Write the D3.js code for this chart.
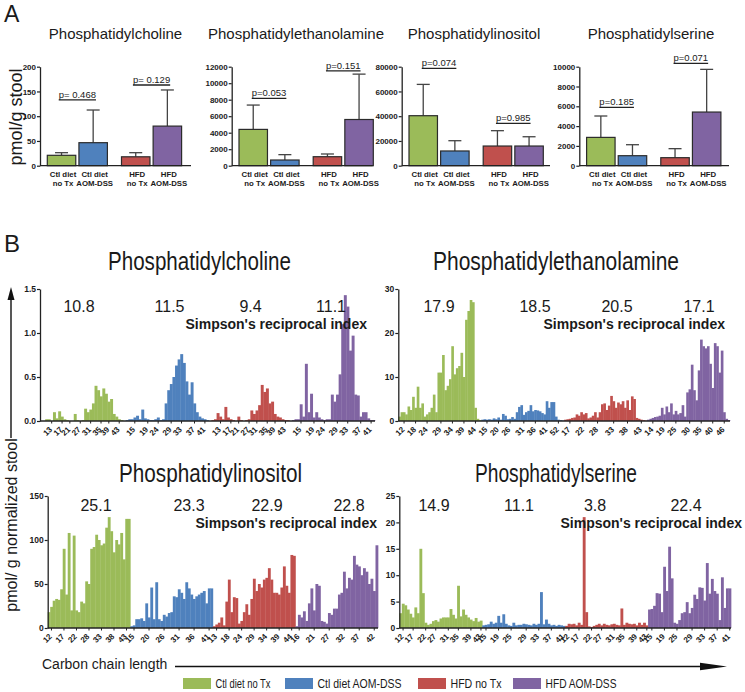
<!DOCTYPE html>
<html><head><meta charset="utf-8">
<script src="https://cdn.jsdelivr.net/npm/d3@7"></script>
<style>body{margin:0;background:#fff}svg{display:block}</style>
</head><body>
<svg id="c" width="745" height="692"></svg>
<script>
// ---------------- DATA ----------------
const groupNames = ["Ctl diet no Tx","Ctl diet AOM-DSS","HFD no Tx","HFD AOM-DSS"];
const groupColors = ["#9BBB59","#4F81BD","#C0504D","#8064A2"];
const labelLine1 = ["Ctl diet","Ctl diet","HFD","HFD"];
const labelLine2 = ["no Tx","AOM-DSS","no Tx","AOM-DSS"];
const lipids = ["Phosphatidylcholine","Phosphatidylethanolamine","Phosphatidylinositol","Phosphatidylserine"];

// Panel A: mean and SD (pmol/g stool)
const meanPC = [21, 46.5, 18, 80];
const sdPC   = [5.3, 66, 8.3, 73];
const meanPE = [4400, 690, 1090, 5600];
const sdPE   = [2950, 650, 330, 5500];
const meanPI = [40400, 11900, 15900, 15900];
const sdPI   = [25300, 8300, 12400, 7500];
const meanPS = [2860, 1010, 810, 5420];
const sdPS   = [2160, 1110, 910, 4310];
const pTextPC = ["p= 0.468","p= 0.129"]; const pLevelPC = [133, 163];
const pTextPE = ["p=0.053","p=0.151"];   const pLevelPE = [8160, 11500];
const pTextPI = ["p=0.074","p=0.985"];   const pLevelPI = [78600, 34200];
const pTextPS = ["p=0.185","p=0.071"];   const pLevelPS = [5890, 10340];
const yTicksAPC = [0,50,100,150,200];
const yTicksAPE = [0,2000,4000,6000,8000,10000,12000];
const yTicksAPI = [0,20000,40000,60000,80000];
const yTicksAPS = [0,2000,4000,6000,8000,10000];

// Panel B: pmol/g normalized stool by carbon chain length
const pcCtl    = [0,0,0.02,0.02,0,0.1,0.03,0.11,0.05,0.02,0.01,0,0,0.08,0.01,0,0.01,0.14,0.1,0.13,0.2,0.4,0.35,0.28,0.37,0.31,0.22,0.25,0.08,0.05,0.02,0.01];
const pcCtlAom = [0,0.01,0.02,0.02,0.04,0.06,0.02,0.13,0.03,0.02,0.01,0.01,0.02,0.04,0.01,0.02,0.2,0.35,0.42,0.5,0.63,0.7,0.76,0.66,0.45,0.3,0.44,0.2,0.1,0.05,0.03,0.02,0.01];
const pcHfd    = [0,0.01,0.02,0.09,0.05,0.02,0.16,0.04,0.02,0.01,0,0.05,0.01,0,0.01,0.02,0.12,0.08,0.12,0.18,0.41,0.33,0.37,0.2,0.22,0.08,0.05,0.04,0.02,0.01,0.01];
const pcHfdAom = [0,0.01,0.02,0.02,0.19,0.05,0.65,0.1,0.31,0.04,0.1,0.04,0.02,0.01,0.02,0.02,0.3,0.22,0.3,0.53,1.1,1.43,1.3,0.8,0.97,0.3,0.29,0.05,0.1,0.1,0.03,0.01,0.01];

const peCtl    = [1,2,2,1.5,3.3,2.5,5.5,3,7.8,3,4,1,1.5,2,3,6,2,11,11,15,7,8,9.5,17,10.6,12,12.5,15.5,10,23,25,27.5,27,3,0.5,0.2];
const peCtlAom = [0.3,0.4,0.3,0.4,0.3,0.6,0.4,0.8,0.3,1.6,1.2,0.4,0.5,0.9,0.5,2,3.2,3.6,1.4,2,2.3,3.6,2.2,2.5,2.4,2.2,1.8,1.5,4.5,3,4.3,4.3,1,0.3,0.2,0.1];
const peHfd    = [0.3,0.4,0.5,0.7,0.8,1.5,1.2,2,1.5,1.8,0.6,0.8,1.2,2,0.8,2,3.8,4,2.5,3.5,5.7,4.5,3,4.2,3.8,4.5,3,4.7,2.5,5.6,5,0.7,0.5,0.3,0.2,0.1];
const peHfdAom = [0.3,0.5,0.7,0.9,1,1.2,3,1.5,3.3,2,4,1.5,2.3,1.5,1.8,3.6,1,6.5,7.2,12.8,7,4.7,11.5,18.5,17,16.5,17,13,7.5,17.7,17,11,16,2,0.5,0.2];

const piCtl    = [18,24,31,33,32,44,90,38,108,20,105,20,18,30,28,53,50,90,92,106,100,94,96,114,126,110,86,100,95,108,78,124,124];
const piCtlAom = [2,3,10,10,11,8,28,12,46,10,52,10,8,15,13,17,18,36,35,44,40,33,52,45,38,33,36,38,40,42,28,45,45];
const piHfd    = [2,4,6,12,3,30,55,18,35,34,5,8,18,27,15,33,56,42,50,46,55,57,68,55,40,40,38,46,70,48,40,83,82];
const piHfdAom = [2,15,12,19,8,28,45,20,50,48,8,7,5,17,15,22,22,38,40,64,45,57,55,82,72,70,60,68,64,50,56,42,94];

const psCtl    = [2.8,4.6,4.3,3.5,2.7,2,3.9,2.8,15,6.6,1,0.6,0.8,1.3,1.5,1.2,1.8,2,2,2,3.6,2.5,1.8,8,2.2,3.5,2.5,2,1.6,1.3,1.9,1.2,1.4];
const psCtlAom = [0.5,0.6,0.7,1.2,0.8,1,2.3,1,2.6,0.8,0.5,0.4,1,0.5,0.6,0.6,0.8,0.7,0.6,0.5,0.8,0.6,0.8,6.8,0.7,1.6,0.8,0.5,0.6,0.4,0.6,0.5,0.4];
const psHfd    = [0.4,0.8,0.7,0.8,0.5,1,0.6,21,3,0.3,0.2,0.4,0.6,0.8,0.5,0.8,0.6,0.5,0.7,0.8,0.6,0.5,3.7,0.6,1,0.8,0.7,0.8,0.5,1,0.6,1,0.5];
const psHfdAom = [3.5,3.6,4.2,6.6,6.5,3,11.6,7,15.4,9.4,1,0.8,1.5,2.8,3,4.9,2.8,3.8,6.3,5.5,7.7,7.6,5.2,12.3,6.5,9.3,7,6.5,1.5,9.6,3.8,7.5,7.5];

// carbon chain tick labels per group
const ticksPC = [[13,17,21,27,31,35,39,43],[15,19,24,29,33,37,41],[13,17,21,27,31,35,39,43],[15,19,24,29,33,37,41]];
const ticksPE = [[12,18,24,29,34,39,44],[15,20,26,31,36,41,52],[17,22,28,33,38,43],[14,19,25,30,35,40,46]];
const ticksPI = [[12,17,22,28,33,38,43],[15,20,26,31,36,41],[13,18,24,29,34,39,44],[16,21,27,32,37,42]];
const ticksPS = [[12,17,22,27,31,35,39,43],[15,19,25,29,33,37,41],[12,17,22,27,31,35,39,43],[15,19,25,29,33,37,41]];

const simpsonPC = [10.8, 11.5, 9.4, 11.1];
const simpsonPE = [17.9, 18.5, 20.5, 17.1];
const simpsonPI = [25.1, 23.3, 22.9, 22.8];
const simpsonPS = [14.9, 11.1, 3.8, 22.4];

const yTicksBPC = [0,0.5,1.0,1.5];
const yTicksBPE = [0,10,20,30];
const yTicksBPI = [0,50,100,150];
const yTicksBPS = [0,5,10,15,20,25];

// ---------------- DRAWING ----------------
const FONT = "'Liberation Sans', Arial, Helvetica, sans-serif";
const NARROW = "'Liberation Sans Narrow', 'Arial Narrow', 'Liberation Sans', Arial, sans-serif";
const INK = "#1a1a1a";
const svg = d3.select("#c").style("font-family", FONT);
const fmt1 = d3.format(".1f"), fmt0 = d3.format("d");

function txt(g, x, y, s, size, opts = {}) {
  const t = g.append("text").attr("x", x).attr("y", y).text(s)
    .attr("font-size", size).attr("fill", opts.fill || INK)
    .attr("text-anchor", opts.anchor || "start");
  if (opts.bold) t.attr("font-weight", "bold");
  if (opts.family) t.attr("font-family", opts.family);
  if (opts.len) t.attr("textLength", opts.len).attr("lengthAdjust", "spacingAndGlyphs");
  return t;
}

// ----- Panel A -----
txt(svg, 4, 22, "A", 23);
txt(svg, 0, 0, "pmol/g stool", 18, {anchor: "middle"}).attr("transform", "translate(22,117) rotate(-90)");

function drawA(x0, w, title, titleX, means, sds, yMax, yTicks, pText, pLevel) {
  const g = svg.append("g");
  const yTop = 66.7, yBot = 165.7;
  const y = d3.scaleLinear().domain([0, yMax]).range([yBot, yTop]);
  const outer = d3.scaleBand().domain([0, 1]).range([x0 + 7.3, x0 + 141.6]).paddingInner(0.19);
  const inner = d3.scaleBand().domain([0, 1]).range([0, outer.bandwidth()]).paddingInner(0.1);
  const bx = i => outer(Math.floor(i / 2)) + inner(i % 2);
  const bw = inner.bandwidth();
  const cx = i => bx(i) + bw / 2;

  txt(g, titleX, 39, title, 15, {anchor: "middle"});

  const data = means.map((m, i) => ({i, m, top: m + sds[i]}));
  g.selectAll(".eb").data(data).enter().append("line")
    .attr("x1", d => cx(d.i)).attr("x2", d => cx(d.i))
    .attr("y1", d => y(d.m)).attr("y2", d => y(d.top))
    .attr("stroke", "#444").attr("stroke-width", 1.3);
  g.selectAll(".cap").data(data).enter().append("line")
    .attr("x1", d => cx(d.i) - 6.5).attr("x2", d => cx(d.i) + 6.5)
    .attr("y1", d => y(d.top)).attr("y2", d => y(d.top))
    .attr("stroke", "#444").attr("stroke-width", 1.3);
  g.selectAll(".bar").data(data).enter().append("rect")
    .attr("x", d => bx(d.i)).attr("width", bw)
    .attr("y", d => y(d.m)).attr("height", d => yBot - y(d.m))
    .attr("fill", d => groupColors[d.i]).attr("stroke", "#2b2b2b").attr("stroke-width", 1.2);

  const ax = g.append("g").attr("transform", `translate(${x0},0)`)
    .call(d3.axisLeft(y).tickValues(yTicks).tickFormat(fmt0).tickSize(3).tickSizeOuter(0));
  ax.select(".domain").attr("stroke", "#222").attr("stroke-width", 1.3);
  ax.selectAll(".tick line").attr("stroke", "#222").attr("stroke-width", 1.2);
  ax.selectAll(".tick text").attr("font-size", 8).attr("font-weight", "bold")
    .attr("font-family", FONT).attr("fill", INK).attr("x", -4);
  g.append("line").attr("x1", x0).attr("x2", x0 + w).attr("y1", yBot).attr("y2", yBot)
    .attr("stroke", "#222").attr("stroke-width", 1.3);

  data.forEach(d => {
    txt(g, cx(d.i) + 1.5, 177, labelLine1[d.i], 7.8, {anchor: "middle", bold: true});
    txt(g, cx(d.i) + 1.5, 185.5, labelLine2[d.i], 7.8, {anchor: "middle", bold: true});
  });

  [[0, 1], [2, 3]].forEach((pr, k) => {
    const mid = (cx(pr[0]) + cx(pr[1])) / 2;
    const yy = y(pLevel[k]);
    const t = txt(g, mid, yy - 2, pText[k], 9.5, {anchor: "middle"});
    const tw = t.node().getComputedTextLength();
    g.append("line").attr("x1", mid - tw / 2).attr("x2", mid + tw / 2)
      .attr("y1", yy).attr("y2", yy).attr("stroke", "#222").attr("stroke-width", 1.3);
  });
}

drawA(40, 151, lipids[0], 115.5, meanPC, sdPC, 200, yTicksAPC, pTextPC, pLevelPC);
drawA(231.7, 141, lipids[1], 296, meanPE, sdPE, 12000, yTicksAPE, pTextPE, pLevelPE);
drawA(401.7, 148.3, lipids[2], 474, meanPI, sdPI, 80000, yTicksAPI, pTextPI, pLevelPI);
drawA(579.3, 149.7, lipids[3], 651, meanPS, sdPS, 10000, yTicksAPS, pTextPS, pLevelPS);

// ----- Panel B -----
txt(svg, 4, 252, "B", 24);

function drawB(cfg, groups, tickLabels, simpson, yTicks, fmt) {
  const g = svg.append("g");
  const flat = [];
  groups.forEach((arr, gi) => arr.forEach((v, i) => flat.push({g: gi, i, v, key: gi + "-" + i})));
  const x = d3.scaleBand().domain(flat.map(d => d.key)).range([cfg.x0, cfg.x1]).padding(0);
  const y = d3.scaleLinear().domain([0, cfg.yMax]).range([cfg.yBot, cfg.yTop]);

  txt(g, cfg.titleX, cfg.titleY, cfg.title, 26, {family: NARROW, len: cfg.titleLen, anchor: "start"});

  g.selectAll(".bar").data(flat).enter().append("rect")
    .attr("x", d => x(d.key)).attr("width", x.bandwidth() + 0.35)
    .attr("y", d => y(d.v)).attr("height", d => cfg.yBot - y(d.v))
    .attr("fill", d => groupColors[d.g]);

  const labelMap = new Map();
  groups.forEach((arr, gi) => {
    const L = tickLabels[gi], n = arr.length;
    const a = cfg.first, b = n - 1 - cfg.lastOff;
    L.forEach((lab, k) => {
      const idx = Math.round(a + k * (b - a) / (L.length - 1));
      labelMap.set(gi + "-" + idx, String(lab));
    });
  });
  const xa = g.append("g").attr("transform", `translate(0,${cfg.yBot})`)
    .call(d3.axisBottom(x).tickValues([...labelMap.keys()]).tickFormat(k => labelMap.get(k)).tickSize(2.5).tickSizeOuter(0));
  xa.select(".domain").attr("d", `M${cfg.x0},0H${cfg.x1}`).attr("stroke", "#222").attr("stroke-width", 1.3);
  xa.selectAll(".tick line").attr("stroke", "#222");
  xa.selectAll(".tick text").attr("font-size", 8).attr("font-weight", "bold").attr("font-family", FONT)
    .attr("fill", INK).attr("x", 0).attr("y", 0).attr("dy", "0.35em")
    .attr("transform", "translate(-1,7) rotate(-45)").style("text-anchor", "end");

  const ya = g.append("g").attr("transform", `translate(${cfg.x0},0)`)
    .call(d3.axisLeft(y).tickValues(yTicks).tickFormat(fmt).tickSize(3).tickSizeOuter(0));
  ya.select(".domain").attr("stroke", "#222").attr("stroke-width", 1.3);
  ya.selectAll(".tick line").attr("stroke", "#222").attr("stroke-width", 1.2);
  ya.selectAll(".tick text").attr("font-size", 8.5).attr("font-weight", "bold")
    .attr("font-family", FONT).attr("fill", INK).attr("x", -4);

  simpson.forEach((s, i) => txt(g, cfg.simpX[i], cfg.numY, s.toFixed(1), 16, {anchor: "middle"}));
  txt(g, cfg.simpRight, cfg.numY + 16.5, "Simpson's reciprocal index", 14, {anchor: "end", bold: true});
}

drawB({x0: 40, x1: 375, yTop: 289, yBot: 421, yMax: 1.5, first: 4, lastOff: 1,
       title: lipids[0], titleX: 108, titleY: 270, titleLen: 183,
       simpX: [79, 169.5, 250.5, 331], numY: 312, simpRight: 367},
      [pcCtl, pcCtlAom, pcHfd, pcHfdAom], ticksPC, simpsonPC, yTicksBPC, fmt1);
drawB({x0: 398.3, x1: 730, yTop: 289, yBot: 421, yMax: 30, first: 2, lastOff: 2,
       title: lipids[1], titleX: 433, titleY: 270, titleLen: 246,
       simpX: [439, 535, 617, 699], numY: 312, simpRight: 725},
      [peCtl, peCtlAom, peHfd, peHfdAom], ticksPE, simpsonPE, yTicksBPE, fmt0);
drawB({x0: 47.7, x1: 378, yTop: 496, yBot: 628, yMax: 150, first: 1, lastOff: 1,
       title: lipids[2], titleX: 119, titleY: 482, titleLen: 183,
       simpX: [96, 189, 267, 349], numY: 511, simpRight: 377},
      [piCtl, piCtlAom, piHfd, piHfdAom], ticksPI, simpsonPI, yTicksBPI, fmt0);
drawB({x0: 399.3, x1: 731, yTop: 496, yBot: 628, yMax: 25, first: 1, lastOff: 0,
       title: lipids[3], titleX: 475, titleY: 482, titleLen: 162,
       simpX: [434, 519, 595, 686], numY: 511, simpRight: 742},
      [psCtl, psCtlAom, psHfd, psHfdAom], ticksPS, simpsonPS, yTicksBPS, fmt0);

// shared axis arrows and labels
svg.append("line").attr("x1", 11).attr("x2", 11).attr("y1", 438).attr("y2", 298)
  .attr("stroke", "#111").attr("stroke-width", 1.4);
svg.append("path").attr("d", "M11,287 L7.5,300 L14.5,300 Z").attr("fill", "#111");
txt(svg, 0, 0, "pmol/ g normalized stool", 16, {anchor: "middle"}).attr("transform", "translate(17,525) rotate(-90)");

txt(svg, 42, 669, "Carbon chain length", 14);
svg.append("line").attr("x1", 175).attr("x2", 705).attr("y1", 666.5).attr("y2", 666.5)
  .attr("stroke", "#111").attr("stroke-width", 1.4);
svg.append("path").attr("d", "M727,666.5 L700,662.8 L700,670.2 Z").attr("fill", "#111");

// legend
const legendX = [183, 285, 418, 513];
const legendTextLen = [55, 84, 51, 71];
groupNames.forEach((name, i) => {
  svg.append("rect").attr("x", legendX[i]).attr("y", 678).attr("width", 28).attr("height", 11)
    .attr("fill", groupColors[i]);
  txt(svg, legendX[i] + 32.5, 688, name, 12, {family: NARROW, len: legendTextLen[i]});
});
</script>
</body></html>
